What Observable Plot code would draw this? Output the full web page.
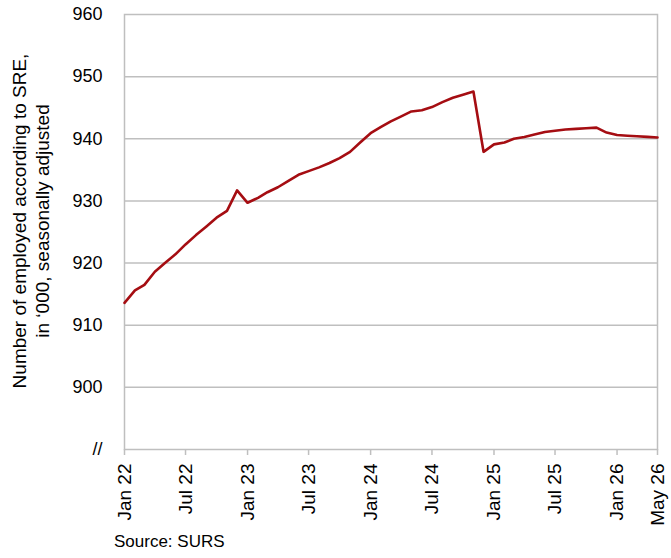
<!DOCTYPE html>
<html>
<head>
<meta charset="utf-8">
<script src="https://cdn.jsdelivr.net/npm/d3@7"></script>
<script src="https://cdn.jsdelivr.net/npm/@observablehq/plot@0.6"></script>
<style>
  body { margin: 0; background: #fff; font-family: "Liberation Sans", Arial, sans-serif; }
  #caption { font-size: 17px; padding-left: 114px; margin-top: 4px; line-height: 20px; color: #000; }
</style>
</head>
<body>
<div id="chart"></div>
<div id="caption">Source: SURS</div>
<script>
// Monthly data, Jan 2022 – May 2026 (thousands, seasonally adjusted)
const startMonth = "2022-01-01";
const endMonth = "2026-05-01";
const employed = [
  913.6, 915.6, 916.5, 918.6, 920.0, 921.4, 923.0, 924.5, 925.9, 927.3, 928.4, 931.7,
  929.7, 930.5, 931.4, 932.2, 933.2, 934.2, 934.8, 935.4, 936.1, 936.9, 937.9, 939.4,
  940.9, 941.9, 942.8, 943.6, 944.4, 944.6, 945.1, 945.9, 946.6, 947.1, 947.6, 937.9,
  939.1, 939.4, 940.0, 940.3, 940.7, 941.1, 941.3, 941.5, 941.6, 941.7, 941.8, 941.0,
  940.6, 940.5, 940.4, 940.3, 940.2
];
const xTickDates = ["2022-01-01","2022-07-01","2023-01-01","2023-07-01","2024-01-01","2024-07-01","2025-01-01","2025-07-01","2026-01-01","2026-05-01"];
const xTickLabels = ["Jan 22","Jul 22","Jan 23","Jul 23","Jan 24","Jul 24","Jan 25","Jul 25","Jan 26","May 26"];
const yTicks = [890, 900, 910, 920, 930, 940, 950, 960];
const yTickLabels = ["//", "900", "910", "920", "930", "940", "950", "960"];
const yTitle = "Number of employed according to SRE,\nin \u2018000, seasonally adjusted";

const months = d3.utcMonth.range(new Date(startMonth), d3.utcMonth.offset(new Date(endMonth), 1));
const data = months.map((d, i) => ({date: d, value: employed[i]}));
const xTicks = xTickDates.map(s => new Date(s));
const xLabelMap = new Map(xTicks.map((d, i) => [+d, xTickLabels[i]]));
const yLabelMap = new Map(yTicks.map((v, i) => [v, yTickLabels[i]]));

const grid = "#bfbfbf";
const chart = Plot.plot({
  width: 671,
  height: 528,
  marginTop: 14,
  marginBottom: 79,
  marginLeft: 124,
  marginRight: 14,
  style: { fontFamily: "'Liberation Sans', Arial, sans-serif", color: "#000", background: "#fff" },
  x: { type: "utc", domain: [new Date(startMonth), new Date(endMonth)] },
  y: { domain: [890, 960] },
  marks: [
    Plot.ruleY(yTicks.filter(v => v > 890 && v < 960), { stroke: grid, strokeWidth: 1.5 }),
    Plot.frame({ stroke: grid, strokeWidth: 1.5 }),
    Plot.axisY(yTicks, {
      tickSize: 0, tickPadding: 22, fontSize: 18, label: null,
      tickFormat: v => yLabelMap.get(v)
    }),
    Plot.axisX(xTicks, {
      tickSize: 6, tickPadding: 8, tickRotate: -90, fontSize: 19, label: null,
      stroke: grid, strokeWidth: 1.5, fill: "#000",
      tickFormat: d => xLabelMap.get(+d)
    }),
    Plot.text([yTitle], {
      frameAnchor: "left", textAnchor: "middle", rotate: -90, dx: -94, dy: -11,
      fontSize: 19, lineHeight: 1.2, fill: "#000"
    }),
    Plot.line(data, { x: "date", y: "value", stroke: "#a50d12", strokeWidth: 2.6 })
  ]
});
document.getElementById("chart").appendChild(chart);
</script>
</body>
</html>
